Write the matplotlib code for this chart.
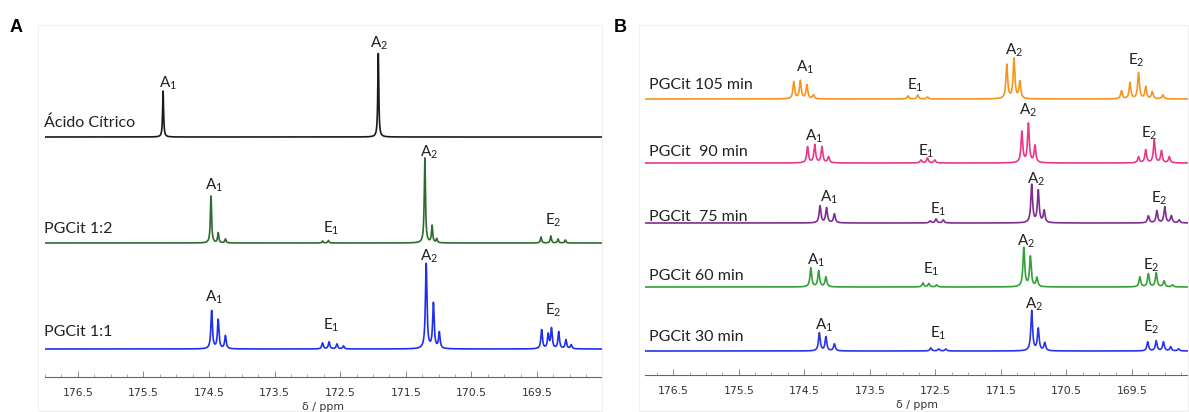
import numpy as np
import matplotlib
matplotlib.use("Agg")
import matplotlib.pyplot as plt
from matplotlib.patches import Rectangle
from matplotlib.ticker import MultipleLocator, FixedLocator

plt.rcParams["mathtext.fontset"] = "custom"
plt.rcParams["mathtext.rm"] = "Lato"
plt.rcParams["mathtext.it"] = "Lato:italic"
plt.rcParams["mathtext.bf"] = "Lato:bold"

# ---------------- data (peak lists) ----------------
# Panel A: ppm positions and heights (px-like intensity units)
citric_ppm = [175.20, 171.92]
citric_h = [46, 84]

pg12_ppm = [174.47, 174.36, 174.25, 172.77, 172.68, 171.21, 171.10, 171.03,
            169.44, 169.29, 169.18, 169.07]
pg12_h = [47, 10, 4, 2, 2.5, 85, 17, 4, 6, 7, 4, 3]

pg11_ppm = [174.46, 174.36, 174.25, 172.77, 172.67, 172.55, 172.45,
            171.19, 171.08, 170.99,
            169.43, 169.33, 169.28, 169.17, 169.06, 168.98]
pg11_h = [38, 29, 13, 6, 7, 5, 3, 85, 45, 16, 19, 14, 20, 17, 9, 4]

# Panel B
t105_ppm = [174.66, 174.56, 174.46, 174.36, 172.92, 172.77, 172.62,
            171.41, 171.30, 171.21,
            169.66, 169.53, 169.40, 169.29, 169.19, 169.03]
t105_h = [17, 18, 14, 4, 3, 4, 2, 34, 40, 17, 8, 16, 26, 12, 7, 4]

t90_ppm = [174.45, 174.34, 174.23, 174.13, 172.72, 172.62, 172.51,
           171.18, 171.08, 170.98,
           169.40, 169.29, 169.16, 169.05, 168.93]
t90_h = [16, 18, 16, 6, 3, 5, 3, 31, 39, 17, 6, 13, 23, 12, 6]

t75_ppm = [174.26, 174.16, 174.04, 172.58, 172.49, 172.38,
           171.03, 170.93, 170.84,
           169.25, 169.12, 169.00, 168.90, 168.78]
t75_h = [17, 15, 9, 2, 4, 3, 38, 32, 12, 7, 12, 16, 7, 3]

t60_ppm = [174.40, 174.28, 174.17, 172.69, 172.60, 172.48,
           171.15, 171.05, 170.95,
           169.38, 169.25, 169.13, 169.01, 168.88]
t60_h = [19, 16, 10, 4, 3.5, 2, 39, 30, 9, 10, 13, 14, 6, 2]

t30_ppm = [174.27, 174.17, 174.04, 172.57, 172.45, 172.34,
           171.03, 170.93, 170.83,
           169.26, 169.13, 169.02, 168.91, 168.79]
t30_h = [18, 14, 7, 3, 2, 2, 40, 22, 8, 9, 10, 9, 4, 2]

tick_vals = [176.5, 175.5, 174.5, 173.5, 172.5, 171.5, 170.5, 169.5]
tick_labels = ["176.5", "175.5", "174.5", "173.5", "172.5", "171.5", "170.5", "169.5"]

labelsA = ["Ácido Cítrico", "PGCit 1:2", "PGCit 1:1"]
labelsB = ["PGCit 105 min", "PGCit  90 min", "PGCit  75 min", "PGCit 60 min", "PGCit 30 min"]

A1, A2, E1, E2 = r"A$_\mathrm{1}$", r"A$_\mathrm{2}$", r"E$_\mathrm{1}$", r"E$_\mathrm{2}$"

# ---------------- layout / style ----------------
W, H = 1189, 412
fig = plt.figure(figsize=(W / 100, H / 100), dpi=100)
fig.patch.set_facecolor("white")

def fx(x):
    return x / W

def fy(y):
    return 1 - y / H

LBL_FONT = ["Lato", "DejaVu Sans"]


def lorentz_sum(x, pos, hts, w):
    y = np.zeros_like(x)
    for p, h in zip(pos, hts):
        y += h / (1 + ((x - p) / w) ** 2)
    return y


def setup_axis(ax, xl, ylim):
    ax.set_xlim(*xl)
    ax.set_ylim(0, ylim)
    for s in ["top", "left", "right"]:
        ax.spines[s].set_visible(False)
    ax.spines["bottom"].set_color("#666666")
    ax.spines["bottom"].set_linewidth(0.8)
    ax.set_yticks([])
    ax.xaxis.set_major_locator(FixedLocator(tick_vals))
    ax.set_xticklabels(tick_labels)
    ax.xaxis.set_minor_locator(MultipleLocator(0.25))
    ax.tick_params(axis="x", which="major", direction="in", length=4,
                   width=0.6, color="#777777", pad=8, labelsize=7.8,
                   labelcolor="#333333")
    ax.tick_params(axis="x", which="minor", direction="in", length=2,
                   width=0.5, color="#888888")
    ax.patch.set_alpha(0)


# faint panel frames
fig.patches.append(Rectangle((fx(38), fy(411)), fx(602 - 38), (411 - 25) / H,
                             transform=fig.transFigure, fill=False,
                             edgecolor="#f0f0f0", linewidth=0.8))
fig.patches.append(Rectangle((fx(639), fy(411)), fx(1188 - 639), (411 - 25) / H,
                             transform=fig.transFigure, fill=False,
                             edgecolor="#f0f0f0", linewidth=0.8))

# ---------------- Panel A ----------------
axA = fig.add_axes([fx(45), fy(377), fx(557), 352 / H])
xlA = (177.0, 168.51)
setup_axis(axA, xlA, 352)
xa = np.linspace(xlA[0], xlA[1], 6000)

tracesA = [
    (citric_ppm, citric_h, 240, "#1a1a1a", 0.009),
    (pg12_ppm, pg12_h, 134, "#2e6b2e", 0.011),
    (pg11_ppm, pg11_h, 28, "#1e2ff0", 0.014),
]
for (pp, hh, off, col, w) in tracesA:
    axA.plot(xa, off + lorentz_sum(xa, pp, hh, w), color=col, lw=1.2)

for lab, y in zip(labelsA, [123, 229, 332]):
    fig.text(fx(44), fy(y), lab, fontsize=11.5, family=LBL_FONT,
             ha="left", va="center", color="#222222")

peak_lab_A = [
    (A1, 175.13, 294), (A2, 171.91, 334),
    (A1, 174.43, 192), (E1, 172.64, 149), (A2, 171.15, 225), (E2, 169.26, 157),
    (A1, 174.43, 80), (E1, 172.63, 52), (A2, 171.15, 121), (E2, 169.26, 67),
]
for t, xp, yp in peak_lab_A:
    axA.text(xp, yp, t, fontsize=11, family=LBL_FONT, ha="center",
             va="center", color="#222222")

fig.text(fx(323), fy(407), "δ / ppm", fontsize=7.8, ha="center",
         va="center", color="#333333")
fig.text(fx(10), fy(27), "A", fontsize=13, fontweight="bold",
         family=["Liberation Sans", "DejaVu Sans"], ha="left", va="center")

# ---------------- Panel B ----------------
axB = fig.add_axes([fx(645), fy(375), fx(544), 350 / H])
xlB = (176.93, 168.63)
setup_axis(axB, xlB, 350)
xb = np.linspace(xlB[0], xlB[1], 6000)

tracesB = [
    (t105_ppm, t105_h, 276, "#f7941d"),
    (t90_ppm, t90_h, 212, "#e8388c"),
    (t75_ppm, t75_h, 152, "#7d2d91"),
    (t60_ppm, t60_h, 88, "#35a035"),
    (t30_ppm, t30_h, 24, "#2b35e8"),
]
for (pp, hh, off, col) in tracesB:
    axB.plot(xb, off + lorentz_sum(xb, pp, hh, 0.016), color=col, lw=1.2)

for lab, y in zip(labelsB, [85, 152, 217, 276, 337]):
    fig.text(fx(649), fy(y), lab, fontsize=11.5, family=LBL_FONT,
             ha="left", va="center", color="#222222")

peak_lab_B = [
    (A1, 174.49, 308), (E1, 172.80, 290), (A2, 171.30, 325), (E2, 169.44, 315),
    (A1, 174.35, 239), (E1, 172.64, 224), (A2, 171.09, 265), (E2, 169.24, 242),
    (A1, 174.12, 178), (E1, 172.45, 166), (A2, 170.97, 196), (E2, 169.09, 177),
    (A1, 174.32, 115), (E1, 172.57, 106), (A2, 171.12, 134), (E2, 169.21, 110),
    (A1, 174.20, 50), (E1, 172.46, 42), (A2, 171.00, 71), (E2, 169.21, 48),
]
for t, xp, yp in peak_lab_B:
    axB.text(xp, yp, t, fontsize=11, family=LBL_FONT, ha="center",
             va="center", color="#222222")

fig.text(fx(917), fy(405), "δ / ppm", fontsize=7.8, ha="center",
         va="center", color="#333333")
fig.text(fx(614), fy(27), "B", fontsize=13, fontweight="bold",
         family=["Liberation Sans", "DejaVu Sans"], ha="left", va="center")

fig.savefig("out.png", dpi=100, facecolor="white")
